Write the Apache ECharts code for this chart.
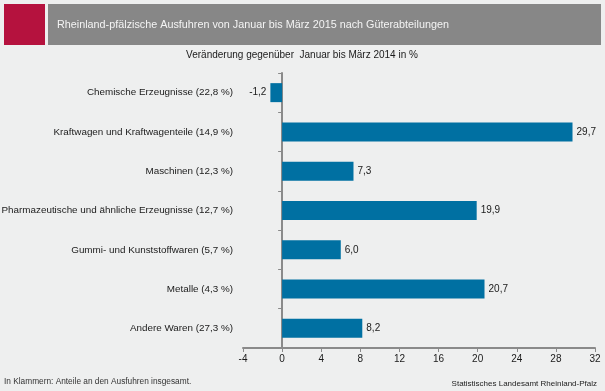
<!DOCTYPE html>
<html><head><meta charset="utf-8">
<script src="https://cdn.jsdelivr.net/npm/echarts@6/dist/echarts.min.js"></script>
<style>html,body{margin:0;padding:0;background:#eeefef}#c{width:605px;height:391px}</style>
</head><body><div id="c"></div>
<script>
const categories = [
  "Chemische Erzeugnisse (22,8 %)",
  "Kraftwagen und Kraftwagenteile (14,9 %)",
  "Maschinen (12,3 %)",
  "Pharmazeutische und ähnliche Erzeugnisse (12,7 %)",
  "Gummi- und Kunststoffwaren (5,7 %)",
  "Metalle (4,3 %)",
  "Andere Waren (27,3 %)"
];
const values = [-1.2, 29.7, 7.3, 19.9, 6.0, 20.7, 8.2];
const xTicks = [-4, 0, 4, 8, 12, 16, 20, 24, 28, 32];

const FF = 'Liberation Sans, Arial, sans-serif';
const chart = echarts.init(document.getElementById('c'), null, {renderer: 'canvas'});
const fmt = v => v.toFixed(1).replace('.', ',');
chart.setOption({
  backgroundColor: '#eeefef',
  animation: false,
  textStyle: {fontFamily: FF},
  graphic: [
    {type: 'rect', shape: {x: 4, y: 4, width: 41, height: 41}, style: {fill: '#b5123e'}},
    {type: 'rect', shape: {x: 48, y: 4, width: 553, height: 41}, style: {fill: '#878787'}},
    {type: 'text', x: 57, y: 25, style: {text: 'Rheinland-pfälzische Ausfuhren von Januar bis März 2015 nach Güterabteilungen', fill: '#f4f4f4', font: '10.8px ' + FF, textVerticalAlign: 'middle'}},
    {type: 'text', x: 302, y: 55, style: {text: 'Veränderung gegenüber  Januar bis März 2014 in %', fill: '#1a1a1a', font: '10px ' + FF, textAlign: 'center', textVerticalAlign: 'middle'}},
    {type: 'text', x: 4, y: 382, style: {text: 'In Klammern: Anteile an den Ausfuhren insgesamt.', fill: '#333', font: '8.3px ' + FF, textVerticalAlign: 'middle'}},
    {type: 'text', x: 597, y: 384, style: {text: 'Statistisches Landesamt Rheinland-Pfalz', fill: '#222', font: '8px ' + FF, textAlign: 'right', textVerticalAlign: 'middle'}}
  ],
  grid: {left: 243, right: 10, top: 73, bottom: 43, containLabel: false, outerBoundsMode: 'none'},
  xAxis: {
    type: 'value', min: -4, max: 32, interval: 4,
    axisLine: {show: true, lineStyle: {color: '#8a8a8a', width: 2}},
    axisTick: {show: true, length: 4, lineStyle: {color: '#8a8a8a'}},
    axisLabel: {color: '#1a1a1a', fontSize: 10, margin: 6},
    splitLine: {show: false}
  },
  yAxis: {
    type: 'category', data: categories, inverse: true,
    axisLine: {show: true, onZero: true, lineStyle: {color: '#8a8a8a', width: 2}},
    axisTick: {show: true, length: 4, lineStyle: {color: '#8a8a8a'}},
    axisLabel: {color: '#1a1a1a', fontSize: 9.85, margin: 10},
    splitLine: {show: false}
  },
  series: [{
    type: 'bar', barWidth: 19,
    data: values.map(v => v < 0 ? {value: v, label: {position: 'left'}} : v),
    itemStyle: {color: '#0070a2'},
    label: {show: true, formatter: p => fmt(p.value), color: '#1a1a1a', fontSize: 10,
      position: 'right', distance: 4}
  }]
});
</script></body></html>
